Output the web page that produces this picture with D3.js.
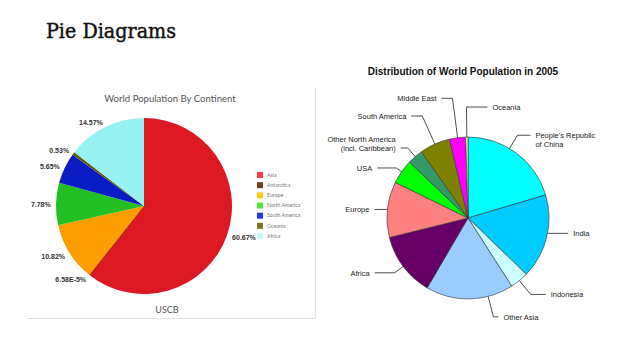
<!DOCTYPE html>
<html>
<head>
<meta charset="utf-8">
<script src="https://cdn.jsdelivr.net/npm/d3@7"></script>
<style>
  body { margin: 0; background: #fff; }
  svg { display: block; }
</style>
</head>
<body>
<svg width="638" height="359"></svg>
<script>
// left chart: world population by continent (USCB)
var continents = ["Asia", "Antarctica", "Europe", "North America", "South America", "Oceania", "Africa"];
var continentShare = [60.67, 0.0000658, 10.82, 7.78, 5.65, 0.53, 14.57];
var continentLabels = ["60.67%", "6.58E-5%", "10.82%", "7.78%", "5.65%", "0.53%", "14.57%"];

// right chart: distribution of world population in 2005 (percent)
var regions = ["People's Republic\nof China", "India", "Indonesia", "Other Asia", "Africa", "Europe", "USA",
               "Other North America\n(incl. Caribbean)", "South America", "Middle East", "Oceania"];
var regionShare = [20.4, 16.8, 3.7, 17.5, 12.7, 11.1, 4.9, 3.1, 6.1, 3.2, 0.45];

// leader line layout for the right chart labels
var labelFrac  = [0.42, 0.45, 0.5, 0.29, 0.5, 0.5, 0.5, 0.5, 0.5, 0.5, 0.5];
var labelReach = [1.19, 1.02, 1.22, 1.26, 1.13, 1.0, 1.08, 1.14, 1.38, 1.49, 1.37];
var labelRun   = [13, 19, 15, 5, 20, 13, 19, 7, 11, 11, 21];
var labelSide  = [1, 1, 1, 1, -1, -1, -1, -1, -1, -1, 1];

var continentColors = {
  "Asia":          ["#fb3a44", "#dc1822"],
  "Antarctica":    ["#6a4418", "#53330c"],
  "Europe":        ["#ffc818", "#ff9c00"],
  "North America": ["#4ee83c", "#22c022"],
  "South America": ["#2238f2", "#0a1cc4"],
  "Oceania":       ["#7a7418", "#5f5a0c"],
  "Africa":        ["#bcfcfc", "#98f2f2"]
};
var regionColors = ["#00ffff", "#00ccff", "#ccffff", "#99ccff", "#660066", "#ff8080",
                    "#00ff00", "#339966", "#808000", "#ff00ff", "#ffff99"];

var svg = d3.select("svg");
var defs = svg.append("defs");

svg.append("text")
  .attr("x", 46).attr("y", 38)
  .attr("font-family", "DejaVu Serif, serif")
  .attr("font-size", 20)
  .attr("textLength", 130)
  .attr("lengthAdjust", "spacingAndGlyphs")
  .attr("fill", "#111")
  .attr("stroke", "#111")
  .attr("stroke-width", 0.45)
  .text("Pie Diagrams");

// ---------- left chart ----------
var lx = 144, ly = 206, lr = 88;

var frame = svg.append("g").attr("stroke", "#e2e2e2").attr("stroke-width", 1.2);
frame.append("line").attr("x1", 315.5).attr("x2", 315.5).attr("y1", 88).attr("y2", 318);
frame.append("line").attr("x1", 27).attr("x2", 315.5).attr("y1", 318.5).attr("y2", 318.5);

svg.append("text")
  .attr("x", 170).attr("y", 102)
  .attr("text-anchor", "middle")
  .attr("font-family", "Lato, sans-serif")
  .attr("font-size", 9.6)
  .attr("fill", "#555")
  .text("World Population By Continent");

svg.append("text")
  .attr("x", 167).attr("y", 313)
  .attr("text-anchor", "middle")
  .attr("font-family", "Lato, sans-serif")
  .attr("font-size", 9)
  .attr("fill", "#555")
  .text("USCB");

continents.forEach(function(c, i) {
  var g = defs.append("radialGradient")
    .attr("id", "grad" + i)
    .attr("gradientUnits", "userSpaceOnUse")
    .attr("cx", lx).attr("cy", ly).attr("r", lr);
  g.append("stop").attr("offset", "0%").attr("stop-color", continentColors[c][0]);
  g.append("stop").attr("offset", "100%").attr("stop-color", continentColors[c][1]);
});

var leftPie = d3.pie().sort(null).value(function(d) { return d; });
var leftArcs = leftPie(continentShare);
var leftArc = d3.arc().innerRadius(0).outerRadius(lr);
var leftLabelArc = d3.arc().innerRadius(lr * 1.06).outerRadius(lr * 1.06);

var lg = svg.append("g").attr("transform", "translate(" + lx + "," + ly + ")");

lg.selectAll("path.slice")
  .data(leftArcs)
  .enter()
  .append("path")
    .attr("class", "slice")
    .attr("d", leftArc)
    .attr("fill", function(d, i) { return "url(#grad" + i + ")"; })
    .attr("stroke", function(d, i) { return i == 1 ? continentColors["Antarctica"][1] : "none"; })
    .attr("stroke-width", 0.6);

lg.selectAll("text.pct")
  .data(leftArcs)
  .enter()
  .append("text")
    .attr("class", "pct")
    .attr("transform", function(d) {
      var c = leftLabelArc.centroid(d);
      return "translate(" + c[0] + "," + (c[1] + 3) + ")";
    })
    .attr("text-anchor", function(d) { return (d.startAngle + d.endAngle) / 2 < Math.PI ? "start" : "end"; })
    .attr("font-family", "Liberation Sans, Arial, sans-serif")
    .attr("font-weight", "bold")
    .attr("font-size", 7)
    .attr("fill", "#333")
    .text(function(d, i) { return continentLabels[i]; });

var legend = svg.append("g").attr("transform", "translate(257,172)");
var legendY = d3.scalePoint().domain(continents).range([0, 61]);

legend.selectAll("rect")
  .data(continents)
  .enter()
  .append("rect")
    .attr("x", 0)
    .attr("y", function(d) { return legendY(d); })
    .attr("width", 6).attr("height", 6)
    .attr("fill", function(d) { return continentColors[d][0]; });

legend.selectAll("text")
  .data(continents)
  .enter()
  .append("text")
    .attr("x", 10)
    .attr("y", function(d) { return legendY(d) + 4.8; })
    .attr("font-family", "Lato, sans-serif")
    .attr("font-size", 5.2)
    .attr("fill", "#777")
    .text(function(d) { return d; });

// ---------- right chart ----------
var rx = 468, ry = 218, rr = 81;

svg.append("text")
  .attr("x", 463).attr("y", 75)
  .attr("text-anchor", "middle")
  .attr("font-family", "Liberation Sans, Arial, sans-serif")
  .attr("font-weight", "bold")
  .attr("font-size", 10)
  .attr("fill", "#111")
  .text("Distribution of World Population in 2005");

var rightPie = d3.pie().sort(null).value(function(d) { return d; });
var rightArcs = rightPie(regionShare);
var rightArc = d3.arc().innerRadius(0).outerRadius(rr);

var rg = svg.append("g").attr("transform", "translate(" + rx + "," + ry + ")");

rg.selectAll("path")
  .data(rightArcs)
  .enter()
  .append("path")
    .attr("d", rightArc)
    .attr("fill", function(d, i) { return regionColors[i]; })
    .attr("stroke", "#333")
    .attr("stroke-width", 0.6);

function polar(a, r) {
  return [Math.sin(a) * r, -Math.cos(a) * r];
}

rightArcs.forEach(function(d, i) {
  var a = d.startAngle + (d.endAngle - d.startAngle) * labelFrac[i];
  var p0 = polar(a, rr);
  var p1 = polar(a, rr * labelReach[i]);
  var right = labelSide[i] > 0;
  var p2 = [p1[0] + labelSide[i] * labelRun[i], p1[1]];

  rg.append("polyline")
    .attr("points", [p0, p1, p2].map(function(p) { return p.join(","); }).join(" "))
    .attr("fill", "none")
    .attr("stroke", "#222")
    .attr("stroke-width", 0.8);

  var lines = regions[i].split("\n");
  var t = rg.append("text")
    .attr("x", p2[0] + labelSide[i] * 5)
    .attr("y", p2[1] + 2.7 - (right ? 0 : (lines.length - 1) * 9))
    .attr("text-anchor", right ? "start" : "end")
    .attr("font-family", "Liberation Sans, Arial, sans-serif")
    .attr("font-size", 7.5)
    .attr("fill", "#222");
  lines.forEach(function(s, k) {
    t.append("tspan")
      .attr("x", p2[0] + labelSide[i] * 5)
      .attr("dy", k == 0 ? 0 : 9.5)
      .text(s);
  });
});
</script>
</body>
</html>
